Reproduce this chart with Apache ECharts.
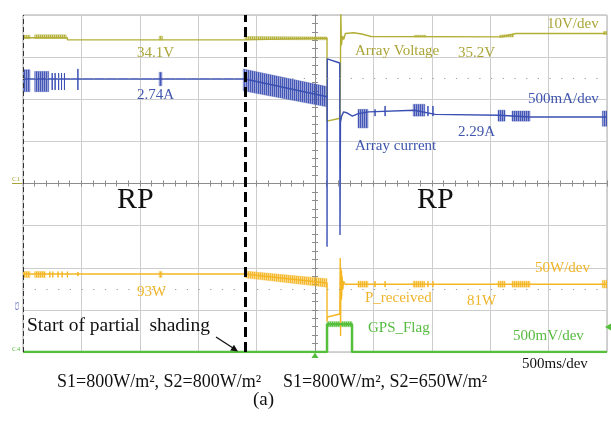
<!DOCTYPE html>
<html lang="en">
<head>
<meta charset="UTF-8">
<title>Array waveforms</title>
<script src="https://cdn.jsdelivr.net/npm/echarts@6/dist/echarts.min.js"></script>
<style>
  html, body { margin: 0; padding: 0; background: #fff; }
  #scope { width: 611px; height: 426px; }
</style>
</head>
<body>
<div id="scope"></div>
<script>
// time in s, relative to the trigger point (screen centre), 500 ms/div
// voltage 10 V/div, current 500 mA/div, power 50 W/div, flag 500 mV/div

// main traces: [t, value]
var voltage = [[-2.5, 34.6], [-2.12, 34.6], [-2.12, 34.1], [-0.60, 34.1], [-0.60, 34.5], [0.103, 34.5],
  [0.103, 14.8], [0.215, 15.5], [0.221, 40.5], [0.226, 32.8], [0.235, 35.0], [0.245, 34.2], [0.26, 35.6],
  [0.33, 35.8], [0.40, 35.5], [0.48, 34.9], [1.60, 34.8], [1.72, 35.6], [2.5, 35.6]];
var current = [[-2.5, 2.74], [-0.60, 2.74], [0.103, 2.53], [0.103, 0.75], [0.105, 2.98], [0.212, 2.93],
  [0.214, 0.89], [0.218, 2.23], [0.228, 2.30], [0.245, 2.35], [0.27, 2.34], [0.32, 2.30], [0.37, 2.33],
  [0.46, 2.35], [0.85, 2.37], [1.03, 2.32], [1.58, 2.31], [1.84, 2.29], [2.5, 2.29]];
var power = [[-2.5, 92.6], [-0.60, 92.6], [0.103, 81.9], [0.103, 36], [0.106, 41.6], [0.212, 45.1],
  [0.216, 111.6], [0.219, 19], [0.222, 100], [0.226, 62], [0.232, 90], [0.238, 74], [0.245, 84],
  [0.257, 80.5], [2.5, 80.5]];
var flag = [[-2.5, 0], [0.103, 0], [0.103, 0.33], [0.317, 0.33], [0.317, 0], [2.5, 0]];

// switching-noise bursts: [t0, low0, high0, t1, low1, high1]
var voltageNoise = [[-2.5, 34.4, 35.2, -2.44, 34.4, 35.2], [-2.40, 34.4, 35.3, -2.13, 34.4, 35.3],
  [-1.335, 34.1, 35.0, -1.305, 34.1, 35.0], [-0.60, 34.2, 34.9, 0.103, 34.1, 34.8],
  [0.85, 34.8, 35.2, 0.95, 34.8, 35.2], [1.58, 34.7, 35.2, 1.70, 34.8, 35.5], [2.47, 35.4, 36.1, 2.5, 35.4, 36.1]];
var currentNoise = [[-2.5, 2.59, 2.85, -2.44, 2.59, 2.85], [-2.40, 2.59, 2.83, -2.28, 2.59, 2.83],
  [-1.335, 2.66, 2.82, -1.31, 2.66, 2.82], [-0.615, 2.60, 2.86, 0.103, 2.41, 2.65],
  [0.368, 2.16, 2.38, 0.454, 2.16, 2.38], [0.84, 2.30, 2.44, 0.94, 2.30, 2.44],
  [1.567, 2.24, 2.37, 1.627, 2.24, 2.37], [1.687, 2.24, 2.36, 1.841, 2.24, 2.36], [2.46, 2.18, 2.36, 2.5, 2.18, 2.36]];
var powerNoise = [[-2.5, 88.5, 95.5, -2.44, 88.5, 95.5], [-2.40, 88.5, 95.5, -2.31, 88.5, 95.5],
  [-1.335, 88.5, 95.5, -1.31, 88.5, 95.5], [-0.60, 88, 96, 0.103, 77, 87],
  [0.368, 77, 84, 0.454, 77, 84], [0.84, 77, 84, 0.94, 77, 84], [1.567, 77, 84, 1.627, 77, 84],
  [1.687, 77, 84, 1.841, 77, 84], [2.46, 76, 85, 2.5, 76, 85]];
var flagNoise = [[0.103, 0.30, 0.36, 0.317, 0.30, 0.36]];

// single spikes: [t, low, high]
var currentSpikes = [[-2.25, 2.61, 2.81], [-2.225, 2.61, 2.81], [-2.195, 2.61, 2.81], [-2.17, 2.61, 2.81],
  [-2.145, 2.61, 2.81], [-2.03, 2.61, 2.86], [0.514, 2.30, 2.38], [0.60, 2.30, 2.42], [0.967, 2.30, 2.42], [1.01, 2.30, 2.42]];
var powerSpikes = [[-2.27, 88.5, 95.5], [-2.245, 88.5, 95.5], [-2.20, 88.5, 95.5], [-2.165, 88.5, 95.5],
  [-2.12, 88.5, 95.5], [-2.03, 90, 95], [0.228, 66, 96], [0.514, 77, 84], [0.60, 77, 84], [0.967, 77, 84], [1.01, 77, 84]];

var partialShadingStart = -0.60;

// channel offsets on screen (divisions from centre) and scale
var chVolt = { ground: 0, perDiv: 10, color: '#b2ae36', text: '#aba538' };
var chCur = { ground: -3, perDiv: 0.5, color: '#3a4fb3', text: '#3f55ad' };
var chPow = { ground: -4, perDiv: 50, color: '#f4b623', text: '#f0b429' };
var chFlag = { ground: -4, perDiv: 0.5, color: '#55bf3c', text: '#56bb40' };

function toDiv(ch, v) { return ch.ground + v / ch.perDiv; }
function tracePoints(ch, pts) {
  return pts.map(function (p) { return [p[0], toDiv(ch, p[1])]; });
}
function noiseRows(ch, bands, spikes) {
  var rows = bands.map(function (b) {
    return [b[0], toDiv(ch, b[1]), toDiv(ch, b[2]), b[3], toDiv(ch, b[4]), toDiv(ch, b[5])];
  });
  (spikes || []).forEach(function (s) {
    rows.push([s[0], toDiv(ch, s[1]), toDiv(ch, s[2]), s[0], toDiv(ch, s[1]), toDiv(ch, s[2])]);
  });
  return rows;
}

// dense vertical hatching so the bursts look like scope noise, not flat blocks
function stripes(color) {
  var c = document.createElement('canvas');
  c.width = 2; c.height = 4;
  var g = c.getContext('2d');
  g.fillStyle = color;
  g.globalAlpha = 1; g.fillRect(0, 0, 1, 4);
  g.globalAlpha = 0.55; g.fillRect(1, 0, 1, 4);
  return { image: c, repeat: 'repeat' };
}

function lineSeries(ch, pts, width, extra) {
  var s = {
    type: 'line', data: tracePoints(ch, pts), showSymbol: false, symbol: 'none',
    lineStyle: { color: ch.color, width: width }, itemStyle: { color: ch.color },
    clip: true, z: 3
  };
  for (var k in extra) s[k] = extra[k];
  return s;
}
function noiseSeries(ch, bands, spikes) {
  var pattern = stripes(ch.color);
  return {
    type: 'custom', data: noiseRows(ch, bands, spikes), clip: true, z: 3,
    encode: { x: [0, 3], y: [1, 2, 4, 5] },
    renderItem: function (params, api) {
      var a = api.coord([api.value(0), api.value(1)]);
      var b = api.coord([api.value(0), api.value(2)]);
      var c = api.coord([api.value(3), api.value(5)]);
      var d = api.coord([api.value(3), api.value(4)]);
      var spike = api.value(0) === api.value(3);
      return {
        type: 'polygon', shape: { points: [a, b, c, d] },
        style: spike ? { fill: 'none', stroke: ch.color, lineWidth: 1 }
                     : { fill: pattern, stroke: ch.color, lineWidth: 0.4, opacity: 0.95 }
      };
    }
  };
}

function timeAxis(pos, split) {
  return {
    type: 'value', position: pos, min: -2.5, max: 2.5, interval: 0.5,
    axisLine: { onZero: true, onZeroAxisIndex: 0, lineStyle: { color: '#8d8d8d', width: 1 } },
    axisTick: { show: true, inside: true, length: 3, lineStyle: { color: '#8d8d8d' } },
    minorTick: { show: true, splitNumber: 5, length: 3, lineStyle: { color: '#8d8d8d' } },
    axisLabel: { show: false },
    splitLine: { show: split, lineStyle: { color: '#cdcdcd', width: 1 } }
  };
}
function divAxis(pos, split) {
  return {
    type: 'value', position: pos, min: -4, max: 4, interval: 1,
    axisLine: { onZero: true, onZeroAxisIndex: 0, lineStyle: { color: '#8d8d8d', width: 1 } },
    axisTick: { show: true, inside: true, length: 3, lineStyle: { color: '#8d8d8d' } },
    minorTick: { show: true, splitNumber: 5, length: 3, lineStyle: { color: '#8d8d8d' } },
    axisLabel: { show: false },
    splitLine: { show: split, lineStyle: { color: '#cdcdcd', width: 1 } }
  };
}

var serif = '"Liberation Serif", "Times New Roman", serif';
function label(text, x, y, color, size) {
  return {
    type: 'text', x: x, y: y, z: 10,
    style: { text: text, fill: color, font: (size || 15) + 'px ' + serif, align: 'left', verticalAlign: 'middle' }
  };
}

var chart = echarts.init(document.getElementById('scope'));
var option = {
  backgroundColor: '#ffffff',
  animation: false,
  grid: { left: 23, top: 15, width: 584, height: 337, show: true, borderColor: '#a8a8a8', borderWidth: 1 },
  xAxis: [timeAxis('bottom', true), timeAxis('top', false)],
  yAxis: [divAxis('left', true), divAxis('right', false)],
  series: [
    lineSeries(chVolt, voltage, 1.4, {
      markLine: {
        silent: true, symbol: ['none', 'none'], label: { show: false },
        data: [
          { xAxis: -2.5, lineStyle: { color: '#333', width: 1, type: [5, 3] } },
          { yAxis: 2.5, lineStyle: { color: '#9a9a9a', width: 1, type: [1.2, 10.5] } },
          { yAxis: -2.5, lineStyle: { color: '#9a9a9a', width: 1, type: [1.2, 10.5] } },
          { xAxis: partialShadingStart, lineStyle: { color: '#000', width: 3, type: [10, 5] } }
        ]
      }
    }),
    noiseSeries(chVolt, voltageNoise, []),
    lineSeries(chCur, current, 1.4),
    noiseSeries(chCur, currentNoise, currentSpikes),
    lineSeries(chPow, power, 1.4),
    noiseSeries(chPow, powerNoise, powerSpikes),
    lineSeries(chFlag, flag, 2.5),
    noiseSeries(chFlag, flagNoise, [])
  ],
  graphic: [
    label('10V/dev', 547, 24.5, chVolt.text),
    label('34.1V', 137, 53, chVolt.text),
    label('Array Voltage', 355, 51, chVolt.text),
    label('35.2V', 458, 53, chVolt.text),
    label('2.74A', 137, 95.5, chCur.text),
    label('500mA/dev', 528, 99, chCur.text),
    label('2.29A', 458, 132, chCur.text),
    label('Array current', 355, 146.5, chCur.text),
    label('RP', 117, 200.5, '#111', 30),
    label('RP', 417, 200.5, '#111', 30),
    label('93W', 137, 292.5, chPow.text),
    label('50W/dev', 535, 268.5, chPow.text),
    label('P_received', 365, 298.5, chPow.text),
    label('81W', 467, 301, chPow.text),
    label('GPS_Flag', 368, 328, chFlag.text),
    label('500mV/dev', 513, 336.5, chFlag.text),
    label('Start of partial  shading', 27, 326, '#111', 19.5),
    label('500ms/dev', 522, 364, '#111'),
    label('S1=800W/m\u00b2, S2=800W/m\u00b2', 57, 382, '#111', 18),
    label('S1=800W/m\u00b2, S2=650W/m\u00b2', 283, 382, '#111', 18),
    label('(a)', 253, 400, '#111', 19),
    // arrow to the shading instant
    { type: 'line', z: 10, shape: { x1: 216, y1: 337, x2: 233, y2: 348 }, style: { stroke: '#111', lineWidth: 1.3 } },
    { type: 'polygon', z: 10, shape: { points: [[238, 351.5], [230.2, 350.6], [234.0, 344.8]] }, style: { fill: '#111' } },
    // channel ground markers
    label('C1', 12, 179, chVolt.text, 7),
    { type: 'line', z: 10, shape: { x1: 12, y1: 183.5, x2: 22, y2: 183.5 }, style: { stroke: chVolt.text, lineWidth: 1 } },
    { type: 'text', x: 17, y: 306, rotation: Math.PI / 2, z: 10,
      style: { text: 'C3', fill: chCur.text, font: '7px ' + serif, align: 'center', verticalAlign: 'middle' } },
    label('C4', 12, 349, chFlag.text, 7),
    // trigger markers
    { type: 'polygon', z: 10, shape: { points: [[315, 352.5], [311.5, 358], [318.5, 358]] }, style: { fill: chFlag.color } },
    { type: 'polygon', z: 10, shape: { points: [[605, 327], [611, 323.5], [611, 330.5]] }, style: { fill: chFlag.color } }
  ]
};
chart.setOption(option);
window.addEventListener('resize', function () { chart.resize(); });
</script>
</body>
</html>
